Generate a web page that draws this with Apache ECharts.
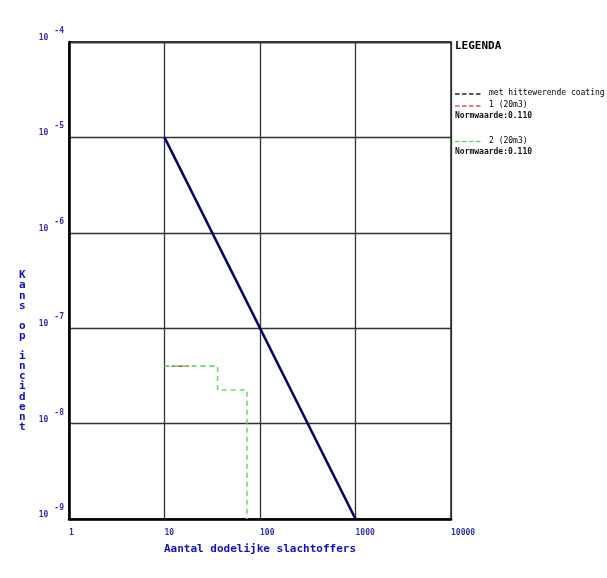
<!DOCTYPE html>
<html>
<head>
<meta charset="utf-8">
<script src="https://cdn.jsdelivr.net/npm/echarts@6/dist/echarts.min.js"></script>
<style>html,body{margin:0;padding:0;background:#fff}#c{width:607px;height:578px}</style>
</head>
<body>
<div id="c"></div>
<script>
// ---- data ----
var xTicks = [1, 10, 100, 1000, 10000];
var yTicks = [1e-9, 1e-8, 1e-7, 1e-6, 1e-5, 1e-4];
var normLine = [[10, 1e-5], [1000, 1e-9]];
var series1 = [[10, 4e-8], [18, 4e-8]];
var series2 = [[10, 4e-8], [36, 4e-8], [36, 2.25e-8], [73, 2.25e-8], [73, 1e-9]];
var seriesBlack = [];
var legendNames = ['met hittewerende coating', '1 (20m3)', '2 (20m3)'];
var normText = 'Normwaarde:0.110';
var xTitle = 'Aantal dodelijke slachtoffers';
var yTitle = 'Kans op incident';

var mono = '"DejaVu Sans Mono", monospace';
var chart = echarts.init(document.getElementById('c'));

function legendItem(y, color, label, withNorm) {
  var els = [];
  for (var i = 0; i < 4; i++) {
    els.push({type: 'line', shape: {x1: 455 + i * 7, y1: y, x2: 459.5 + i * 7, y2: y},
      style: {stroke: color, lineWidth: 1.3}});
  }
  els.push({type: 'text', left: 489, top: y - 5,
    style: {text: label, font: '8px ' + mono, fill: '#000'}});
  if (withNorm) {
    els.push({type: 'text', left: 455, top: y + 6,
      style: {text: normText, font: 'bold 8px ' + mono, fill: '#111'}});
  }
  return els;
}

var graphics = [
  {type: 'text', left: 19, top: 270, style: {text: yTitle.split('').join('\n'), font: 'bold 11px ' + mono, fill: '#1010c0', lineHeight: 10.1, align: 'center'}},
  {type: 'text', left: 455, top: 41, style: {text: 'LEGENDA', font: 'bold 11px ' + mono, fill: '#000'}}
].concat(legendItem(94, '#000', legendNames[0], false))
 .concat(legendItem(106, '#dd3333', legendNames[1], true))
 .concat(legendItem(141.5, '#55dd55', legendNames[2], true));

chart.setOption({
  animation: false,
  grid: {left: 69, top: 42, right: 156, bottom: 59, show: true, borderColor: '#000', borderWidth: 1.3},
  xAxis: {
    type: 'log', logBase: 10, min: xTicks[0], max: xTicks[xTicks.length - 1],
    name: xTitle, nameLocation: 'start', nameGap: 0,
    nameTextStyle: {color: '#1010c8', fontFamily: mono, fontWeight: 'bold', fontSize: 11, align: 'left', verticalAlign: 'top', padding: [25, 0, 0, 95]},
    axisLine: {show: true, lineStyle: {color: '#000', width: 2.5}},
    axisTick: {show: false},
    splitLine: {show: true, lineStyle: {color: '#333', width: 1.3}},
    axisLabel: {color: '#3030b0', fontFamily: mono, fontWeight: 'bold', fontSize: 8, align: 'left', margin: 10,
      formatter: function (v) { return String(Math.round(v)); }, showMinLabel: true, showMaxLabel: true}
  },
  yAxis: {
    type: 'log', logBase: 10, min: yTicks[0], max: yTicks[yTicks.length - 1],
    axisLine: {show: true, lineStyle: {color: '#000', width: 2.5}},
    axisTick: {show: false},
    splitLine: {show: true, lineStyle: {color: '#333', width: 1.3}},
    axisLabel: {margin: 5, verticalAlign: 'bottom', showMinLabel: true, showMaxLabel: true,
      formatter: function (v) { return '{b|10}{s|' + Math.round(Math.log10(v)) + '}'; },
      rich: {
        b: {color: '#3030b0', fontFamily: mono, fontWeight: 'bold', fontSize: 8, padding: [0, 6, 0, 0], verticalAlign: 'bottom'},
        s: {color: '#3030b0', fontFamily: mono, fontWeight: 'bold', fontSize: 8, padding: [0, 0, 7, 0], verticalAlign: 'bottom'}
      }}
  },
  series: [
    {type: 'line', name: legendNames[0], data: seriesBlack, symbol: 'none', lineStyle: {color: '#000', width: 1, type: 'dashed'}},
    {type: 'line', name: legendNames[1], data: series1, symbol: 'none', lineStyle: {color: '#cc4422', width: 1.5, type: [4, 3]}},
    {type: 'line', name: legendNames[2], data: series2, symbol: 'none', lineStyle: {color: '#66dd66', width: 1.6, type: [5, 4]}},
    {type: 'line', name: 'norm', data: normLine, symbol: 'none', lineStyle: {color: '#000066', width: 2.5}}
  ],
  graphic: graphics
});
</script>
</body>
</html>
